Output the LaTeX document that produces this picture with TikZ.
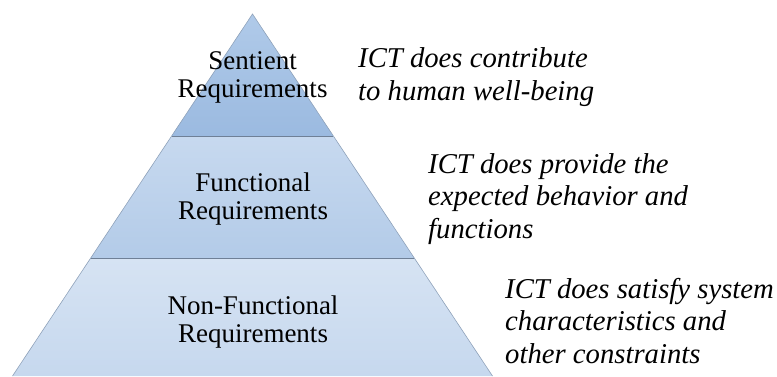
\documentclass[tikz,border=0pt]{standalone}
\usepackage{fontspec}
\setmainfont{Liberation Serif}
\definecolor{edgec}{HTML}{8FA2BA}
\definecolor{divc}{HTML}{6F8096}
\definecolor{tA}{HTML}{B0CAE9}
\definecolor{tB}{HTML}{9BBAE0}
\definecolor{mA}{HTML}{C7D9EF}
\definecolor{mB}{HTML}{B3CBE8}
\definecolor{bA}{HTML}{D6E3F3}
\definecolor{bB}{HTML}{C6D8EE}
\tikzset{
  lvltext/.style={align=center, anchor=base, inner sep=0pt, font=\fontsize{27}{28}\selectfont},
  sidetext/.style={align=left, anchor=base west, inner sep=0pt, font=\fontsize{28.7}{32.5}\selectfont\itshape},
}
\begin{document}
\begin{tikzpicture}[x=1pt,y=-1pt]
\useasboundingbox (0,0) rectangle (777,376);
% corner coordinates
\coordinate (apex) at (252.5,14);
\coordinate (l1) at (171.6,136);
\coordinate (r1) at (333.4,136);
\coordinate (l2) at (90.7,258);
\coordinate (r2) at (414.3,258);
\coordinate (l3) at (12.5,376);
\coordinate (r3) at (492.5,376);
% levels
\shade[top color=bA, bottom color=bB] (l2) -- (r2) -- (r3) -- (l3) -- cycle;
\shade[top color=mA, bottom color=mB] (l1) -- (r1) -- (r2) -- (l2) -- cycle;
\shade[top color=tA, bottom color=tB] (apex) -- (r1) -- (l1) -- cycle;
\draw[edgec, line width=0.6pt] (l3) -- (apex) -- (r3);
\draw[divc, line width=0.8pt] (l1) -- (r1);
\draw[divc, line width=0.8pt] (l2) -- (r2);
% labels (anchor base = baseline of last line)
\node[lvltext] (sent) at (252.5,97) {Sentient\\Requirements};
\node[lvltext] (func) at (253,219.5) {Functional\\Requirements};
\node[lvltext] (nonf) at (253,342) {Non-Functional\\Requirements};
\node[sidetext] (d1) at (358,100) {ICT does contribute\\to human well-being};
\node[sidetext] (d2) at (428,238) {ICT does provide the\\expected behavior and\\functions};
\node[sidetext] (d3) at (505,363) {ICT does satisfy system\\characteristics and\\other constraints};
\end{tikzpicture}
\end{document}
